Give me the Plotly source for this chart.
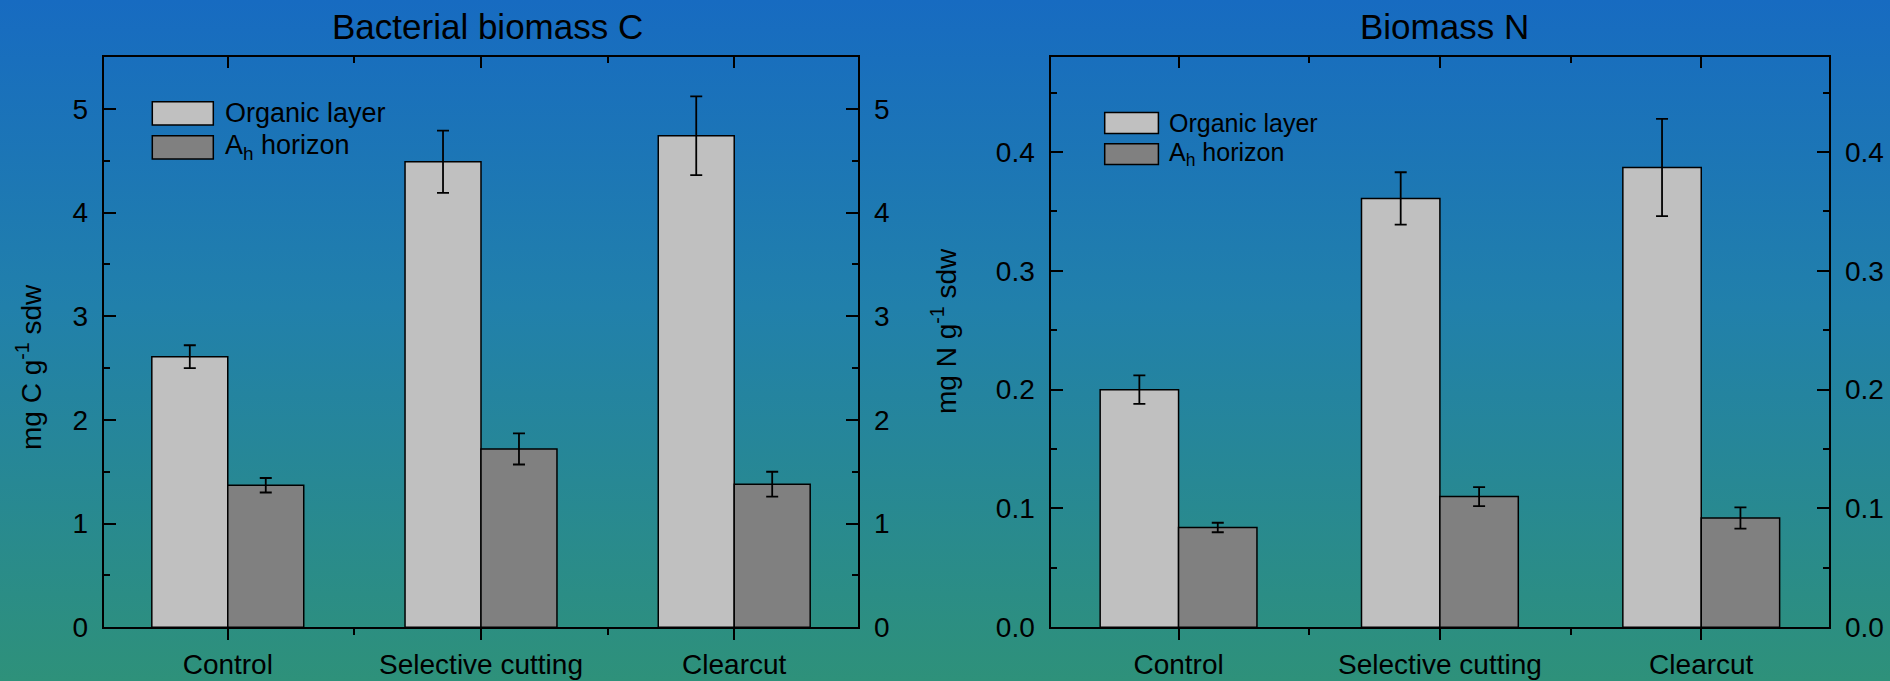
import base64
import plotly.graph_objects as go

# ---------------- data ----------------
categories = ["Control", "Selective cutting", "Clearcut"]
series_names = ["Organic layer", "A<sub>h</sub> horizon"]

c_organic = [2.61, 4.49, 4.74]
c_organic_err = [0.11, 0.30, 0.38]
c_ah = [1.37, 1.72, 1.38]
c_ah_err = [0.07, 0.15, 0.12]

n_organic = [0.200, 0.361, 0.387]
n_organic_err = [0.012, 0.022, 0.041]
n_ah = [0.084, 0.110, 0.092]
n_ah_err = [0.004, 0.008, 0.009]

c_ticks = [0, 1, 2, 3, 4, 5]
n_ticks = [0.0, 0.1, 0.2, 0.3, 0.4]
n_tick_text = ["0.0", "0.1", "0.2", "0.3", "0.4"]

titles = ["Bacterial biomass C", "Biomass N"]
y_titles = ["mg C g<sup>-1</sup> sdw", "mg N g<sup>-1</sup> sdw"]

# ---------------- style ----------------
W, H = 1890, 681
FONT = "Liberation Sans, Arial, sans-serif"
ORG_COL = "#C0C0C0"
AH_COL = "#808080"
xpos = list(range(len(categories)))


def px(x):
    return x / W


def py(y):
    return 1 - y / H


left_dom = [px(103.7), px(858.3)]
right_dom = [px(1050.5), px(1829.3)]
ydom = [py(627.3), py(57.0)]

fig = go.Figure()


def add_bars(xa, ya, org, org_err, ah, ah_err):
    for vals, errs, col, name in [(org, org_err, ORG_COL, series_names[0]),
                                  (ah, ah_err, AH_COL, series_names[1])]:
        fig.add_trace(go.Bar(
            x=xpos, y=vals, name=name, xaxis=xa, yaxis=ya,
            marker=dict(color=col, line=dict(color="black", width=1.5)),
            error_y=dict(type="data", array=errs, visible=True,
                         color="black", thickness=1.8, width=6),
            showlegend=False,
        ))


add_bars("x", "y", c_organic, c_organic_err, c_ah, c_ah_err)
add_bars("x2", "y2", n_organic, n_organic_err, n_ah, n_ah_err)

# empty helper traces so the mirrored (top / right) axes get drawn
for xa, ya in [("x3", "y3"), ("x4", "y4")]:
    fig.add_trace(go.Scatter(x=[None], y=[None], xaxis=xa, yaxis=ya,
                             mode="markers", showlegend=False, hoverinfo="skip"))

xrange = [-0.49, 2.49]
tick_font = dict(family=FONT, size=28, color="black")

common_x = dict(range=xrange, autorange=False, showgrid=False, zeroline=False,
                showline=True, automargin=False,
                linecolor="black", linewidth=2.2, tickcolor="black", tickwidth=2,
                tickmode="array", tickvals=xpos)

bottom_x = dict(common_x, ticktext=categories, ticks="outside", ticklen=11,
                tickfont=tick_font,
                minor=dict(tickvals=[0.5, 1.5], ticks="outside", ticklen=6,
                           tickwidth=2, tickcolor="black"))
top_x = dict(common_x, side="top", ticks="inside", ticklen=11,
             showticklabels=False,
             minor=dict(tickvals=[0.5, 1.5], ticks="inside", ticklen=6,
                        tickwidth=2, tickcolor="black"))

common_y = dict(showgrid=False, zeroline=False, showline=True, linecolor="black",
                automargin=False, autorange=False,
                linewidth=2.2, tickcolor="black", tickwidth=2, ticks="inside",
                ticklen=12, tickfont=tick_font, ticklabelstandoff=8)

c_y = dict(common_y, range=[0, 5.5], tickmode="array", tickvals=c_ticks,
           minor=dict(dtick=0.5, tick0=0, ticks="inside", ticklen=6,
                      tickwidth=2, tickcolor="black"))
n_y = dict(common_y, range=[0, 0.48], tickmode="array", tickvals=n_ticks,
           ticktext=n_tick_text,
           minor=dict(dtick=0.05, tick0=0, ticks="inside", ticklen=6,
                      tickwidth=2, tickcolor="black"))

fig.update_layout(
    width=W, height=H,
    margin=dict(l=0, r=0, t=0, b=0, pad=0),
    paper_bgcolor="#2E917A",
    plot_bgcolor="rgba(0,0,0,0)",
    barmode="group", bargap=0.4, bargroupgap=0,
    font=dict(family=FONT, color="black"),
    showlegend=False,
    xaxis=dict(bottom_x, domain=left_dom, anchor="y"),
    yaxis=dict(c_y, domain=ydom, anchor="x"),
    xaxis2=dict(bottom_x, domain=right_dom, anchor="y2"),
    yaxis2=dict(n_y, domain=ydom, anchor="x2"),
    xaxis3=dict(top_x, overlaying="x", anchor="y3"),
    yaxis3=dict(c_y, overlaying="y", side="right", anchor="x3"),
    xaxis4=dict(top_x, overlaying="x2", anchor="y4"),
    yaxis4=dict(n_y, overlaying="y2", side="right", anchor="x4"),
)

# gradient background
svg = ('<svg xmlns="http://www.w3.org/2000/svg" width="100" height="100" '
       'viewBox="0 0 100 100" preserveAspectRatio="none"><defs>'
       '<linearGradient id="g" x1="0" y1="0" x2="0" y2="1">'
       '<stop offset="0" stop-color="#176BC1"/>'
       '<stop offset="0.45" stop-color="#2180AB"/>'
       '<stop offset="1" stop-color="#2E917A"/>'
       '</linearGradient></defs>'
       '<rect x="0" y="0" width="100" height="100" fill="url(#g)"/></svg>')
uri = "data:image/svg+xml;base64," + base64.b64encode(svg.encode()).decode()
fig.add_layout_image(dict(source=uri, xref="paper", yref="paper", x=0, y=1,
                          sizex=1, sizey=1, sizing="stretch", layer="below",
                          xanchor="left", yanchor="top"))

# titles
for txt, xc in zip(titles, [487.5, 1444.4]):
    fig.add_annotation(text=txt, x=px(xc), y=py(27), xref="paper", yref="paper",
                       xanchor="center", yanchor="middle", showarrow=False,
                       font=dict(family=FONT, size=35, color="black"))
for txt, xc, yc in zip(y_titles, [29, 944], [367, 331]):
    fig.add_annotation(text=txt, x=px(xc), y=py(yc), xref="paper", yref="paper",
                       xanchor="center", yanchor="middle",
                       textangle=-90, showarrow=False,
                       font=dict(family=FONT, size=28, color="black"))

# legends (drawn as boxes + text)
legend_specs = [
    # box x0, x1, rows [(y0,y1)], text x, font size
    (152.3, 213.3, [(101.7, 125.0), (135.7, 159.0)], 222.7, 27),
    (1104.7, 1158.4, [(112.5, 133.4), (143.8, 164.6)], 1167.4, 25),
]
for bx0, bx1, rows, tx, fs in legend_specs:
    for (y0, y1), col, name in zip(rows, [ORG_COL, AH_COL], series_names):
        fig.add_shape(type="rect", xref="paper", yref="paper",
                      x0=px(bx0), x1=px(bx1), y0=py(y1), y1=py(y0),
                      fillcolor=col, line=dict(color="black", width=1.5))
        fig.add_annotation(text=name, x=px(tx), y=py((y0 + y1) / 2),
                           xref="paper", yref="paper", xanchor="left",
                           yanchor="middle", showarrow=False,
                           font=dict(family=FONT, size=fs, color="black"))

fig.write_html("out.html")
